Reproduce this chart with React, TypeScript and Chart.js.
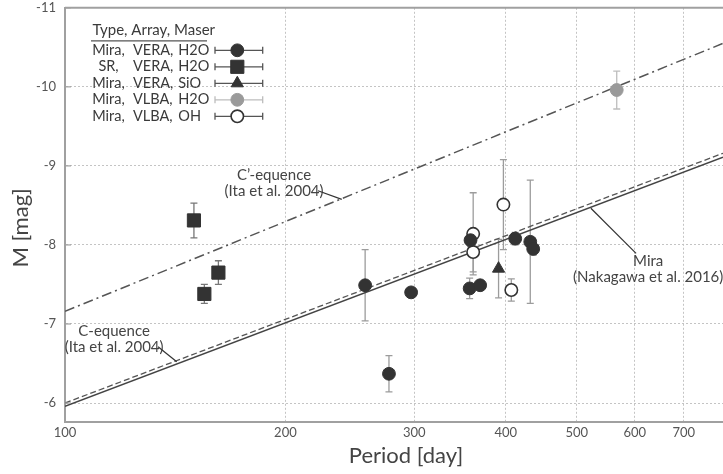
import React, { useEffect, useRef } from 'react';
import { Chart, registerables } from 'chart.js';

Chart.register(...registerables);

const FONT = 'Lato, "Open Sans", "Noto Sans", sans-serif';

// ---- data ----
const miraVeraH2oPeriod = [257, 277, 297, 358, 357, 369, 412, 432, 436];
const miraVeraH2oMag = [-7.49, -6.37, -7.4, -8.06, -7.45, -7.49, -8.08, -8.04, -7.95];
const miraVeraH2oErr = [0.45, 0.23, 0.04, 0.08, 0.13, 0.05, 0.08, 0.78, 0.08];

const srVeraH2oPeriod = [150, 155, 162];
const srVeraH2oMag = [-8.31, -7.38, -7.65];
const srVeraH2oErr = [0.22, 0.12, 0.15];

const miraVeraSioPeriod = [391];
const miraVeraSioMag = [-7.7];
const miraVeraSioErr = [0.37];

const miraVlbaH2oPeriod = [567];
const miraVlbaH2oMag = [-9.96];
const miraVlbaH2oErr = [0.24];

const miraVlbaOhPeriod = [361, 361, 397, 407];
const miraVlbaOhMag = [-8.14, -7.91, -8.51, -7.43];
const miraVlbaOhErr = [0.52, 0.25, 0.57, 0.14];

// relation lines: magnitudes at the two ends of the period axis
const linePeriods = [100, 792];
const miraNakagawa = [-5.96, -9.11];
const cSequence = [-6.0, -9.16];
const cPrimeSequence = [-7.16, -10.55];

const xTickValues = [100, 200, 300, 400, 500, 600, 700];
const yTickValues = [-11, -10, -9, -8, -7, -6];

const legendHeader = 'Type, Array, Maser';
const legendType = ['Mira,', 'SR,', 'Mira,', 'Mira,', 'Mira,'];
const legendArray = ['VERA,', 'VERA,', 'VERA,', 'VLBA,', 'VLBA,'];
const legendMaser = ['H2O', 'H2O', 'SiO', 'H2O', 'OH'];

const xTitle = 'Period [day]';
const yTitle = 'M [mag]';

const annotations = [
  { lines: ['C\u2019-equence', '(Ita et al. 2004)'], p: 193, m: -8.885, leader: [[221.6, -8.686], [238.8, -8.577]] },
  { lines: ['C-equence', '(Ita et al. 2004)'], p: 116.7, m: -6.903, leader: [[134.0, -6.713], [142.1, -6.523]] },
  { lines: ['Mira', '(Nakagawa et al. 2016)'], p: 626, m: -7.801, leader: [[522.7, -8.464], [602.6, -7.894]] },
];

type Series = {
  period: number[]; mag: number[]; err: number[];
  style: string; fill: string; stroke: string; radius: number; bw: number;
  errColor: string; legendErr: string;
};

const series: Series[] = [
  { period: miraVeraH2oPeriod, mag: miraVeraH2oMag, err: miraVeraH2oErr, style: 'circle', fill: '#333', stroke: '#333', radius: 6.4, bw: 1, errColor: '#9c9c9c', legendErr: '#555' },
  { period: srVeraH2oPeriod, mag: srVeraH2oMag, err: srVeraH2oErr, style: 'rect', fill: '#333', stroke: '#333', radius: 9.3, bw: 1, errColor: '#777', legendErr: '#555' },
  { period: miraVeraSioPeriod, mag: miraVeraSioMag, err: miraVeraSioErr, style: 'triangle', fill: '#333', stroke: '#333', radius: 7, bw: 1, errColor: '#9c9c9c', legendErr: '#555' },
  { period: miraVlbaH2oPeriod, mag: miraVlbaH2oMag, err: miraVlbaH2oErr, style: 'circle', fill: '#9a9a9a', stroke: '#9a9a9a', radius: 6.4, bw: 1, errColor: '#bdbdbd', legendErr: '#bdbdbd' },
  { period: miraVlbaOhPeriod, mag: miraVlbaOhMag, err: miraVlbaOhErr, style: 'circle', fill: '#ffffff', stroke: '#333', radius: 6.2, bw: 1.6, errColor: '#9c9c9c', legendErr: '#555' },
];

function drawMarker(ctx: CanvasRenderingContext2D, s: Series, cx: number, cy: number) {
  const r = s.radius;
  ctx.beginPath();
  if (s.style === 'rect') {
    const h = r * Math.SQRT1_2;
    ctx.rect(cx - h, cy - h, 2 * h, 2 * h);
  } else if (s.style === 'triangle') {
    ctx.moveTo(cx, cy - r);
    ctx.lineTo(cx + r * 0.866, cy + r * 0.5);
    ctx.lineTo(cx - r * 0.866, cy + r * 0.5);
    ctx.closePath();
  } else {
    ctx.arc(cx, cy, r, 0, Math.PI * 2);
  }
  ctx.fillStyle = s.fill;
  ctx.fill();
  ctx.lineWidth = s.bw;
  ctx.strokeStyle = s.stroke;
  ctx.stroke();
}

const overlayPlugin = {
  id: 'overlay',
  beforeDatasetsDraw(chart: any) {
    const { ctx, scales } = chart;
    const x = scales.x, y = scales.y;
    ctx.save();
    ctx.lineWidth = 1.3;
    series.forEach((s) => {
      ctx.strokeStyle = s.errColor;
      s.period.forEach((p, i) => {
        const px = x.getPixelForValue(p);
        const y1 = y.getPixelForValue(s.mag[i] - s.err[i]);
        const y2 = y.getPixelForValue(s.mag[i] + s.err[i]);
        ctx.beginPath();
        ctx.moveTo(px, y1); ctx.lineTo(px, y2);
        ctx.moveTo(px - 3.5, y1); ctx.lineTo(px + 3.5, y1);
        ctx.moveTo(px - 3.5, y2); ctx.lineTo(px + 3.5, y2);
        ctx.stroke();
      });
    });
    ctx.restore();
  },
  afterDatasetsDraw(chart: any) {
    const { ctx, chartArea, scales } = chart;
    const x = scales.x, y = scales.y;
    const { left, top, right, bottom } = chartArea;
    ctx.save();

    // top frame
    ctx.strokeStyle = '#a0a0a0';
    ctx.lineWidth = 2;
    ctx.beginPath();
    ctx.moveTo(left, top); ctx.lineTo(right, top);
    ctx.stroke();

    // inward ticks on left axis
    ctx.lineWidth = 1.2;
    yTickValues.forEach((v) => {
      const py = y.getPixelForValue(v);
      ctx.beginPath();
      ctx.moveTo(left, py); ctx.lineTo(left + 6, py);
      ctx.stroke();
    });

    // annotations
    ctx.fillStyle = '#444';
    ctx.font = `15px ${FONT}`;
    ctx.textAlign = 'center';
    ctx.textBaseline = 'middle';
    annotations.forEach((a) => {
      const ax = x.getPixelForValue(a.p);
      const ay = y.getPixelForValue(a.m);
      a.lines.forEach((t, i) => ctx.fillText(t, ax, ay + i * 16));
      ctx.strokeStyle = '#333';
      ctx.lineWidth = 1.2;
      ctx.beginPath();
      ctx.moveTo(x.getPixelForValue(a.leader[0][0]), y.getPixelForValue(a.leader[0][1]));
      ctx.lineTo(x.getPixelForValue(a.leader[1][0]), y.getPixelForValue(a.leader[1][1]));
      ctx.stroke();
    });

    // legend
    const hx = left + 27.5;
    const hy = top + 22.5;
    ctx.fillStyle = '#3a3a3a';
    ctx.textAlign = 'left';
    ctx.font = `15px ${FONT}`;
    ctx.fillText(legendHeader, hx, hy);
    ctx.strokeStyle = '#555';
    ctx.lineWidth = 1.2;
    ctx.beginPath();
    ctx.moveTo(left + 26, top + 33); ctx.lineTo(left + 142, top + 33);
    ctx.stroke();
    ctx.font = `14.5px ${FONT}`;
    series.forEach((s, i) => {
      const ry = top + 42.5 + i * 16.5;
      ctx.fillStyle = '#3a3a3a';
      ctx.textAlign = 'center';
      ctx.fillText(legendType[i], left + 43.5, ry);
      ctx.textAlign = 'left';
      ctx.fillText(legendArray[i], left + 68, ry);
      ctx.fillText(legendMaser[i], left + 113.3, ry);
      const x1 = left + 150, x2 = left + 197.7, mx = left + 172.3;
      ctx.strokeStyle = s.legendErr;
      ctx.lineWidth = 1.3;
      ctx.beginPath();
      ctx.moveTo(x1, ry); ctx.lineTo(x2, ry);
      ctx.moveTo(x1, ry - 3.5); ctx.lineTo(x1, ry + 3.5);
      ctx.moveTo(x2, ry - 3.5); ctx.lineTo(x2, ry + 3.5);
      ctx.stroke();
      drawMarker(ctx, s, mx, ry);
    });

    // axis titles
    ctx.fillStyle = '#444';
    ctx.font = `22px ${FONT}`;
    ctx.textAlign = 'center';
    ctx.textBaseline = 'middle';
    ctx.fillText(xTitle, 406, bottom + 34);
    ctx.translate(21, (top + bottom) / 2 + 13);
    ctx.rotate(-Math.PI / 2);
    ctx.fillText(yTitle, 0, 0);

    ctx.restore();
  },
};

export default function App() {
  const ref = useRef<HTMLCanvasElement>(null);

  useEffect(() => {
    if (!ref.current) return;
    Chart.defaults.font.family = FONT;

    const pointSets = series.map((s, k) => ({
      label: `${legendType[k]} ${legendArray[k]} ${legendMaser[k]}`,
      data: s.period.map((p, i) => ({ x: p, y: s.mag[i] })),
      pointStyle: s.style,
      pointRadius: s.radius,
      backgroundColor: s.fill,
      borderColor: s.stroke,
      borderWidth: s.bw,
      showLine: false,
      order: 1,
    }));

    const lineSet = (label: string, vals: number[], color: string, width: number, dash: number[]) => ({
      label,
      data: linePeriods.map((p, i) => ({ x: p, y: vals[i] })),
      showLine: true,
      pointRadius: 0,
      borderColor: color,
      borderWidth: width,
      borderDash: dash,
      fill: false,
      order: 5,
    });

    const chart = new Chart(ref.current, {
      type: 'scatter',
      data: {
        datasets: [
          ...pointSets,
          lineSet('Mira (Nakagawa et al. 2016)', miraNakagawa, '#444', 1.5, []),
          lineSet('C-equence (Ita et al. 2004)', cSequence, '#555', 1.3, [6, 3]),
          lineSet('C\u2019-equence (Ita et al. 2004)', cPrimeSequence, '#555', 1.5, [10, 4, 2, 4]),
        ] as any,
      },
      options: {
        animation: false,
        responsive: false,
        layout: { padding: 0, autoPadding: false },
        plugins: { legend: { display: false }, tooltip: { enabled: false } },
        scales: {
          x: {
            type: 'logarithmic',
            min: 100,
            max: 792,
            afterBuildTicks: (s: any) => { s.ticks = xTickValues.map((v) => ({ value: v })); },
            afterFit: (s: any) => { s.height = 52; s.paddingLeft = 0; s.paddingRight = 0; },
            ticks: {
              callback: (v: any) => String(v),
              color: '#555',
              font: { size: 13, family: FONT },
              padding: 3,
              maxRotation: 0,
              autoSkip: false,
            },
            grid: { color: '#c4c4c4', lineWidth: 1, drawTicks: false },
            border: { display: true, color: '#a0a0a0', width: 2, dash: [2, 2] },
          },
          y: {
            type: 'linear',
            reverse: true,
            min: -11,
            max: -5.76,
            afterBuildTicks: (s: any) => { s.ticks = yTickValues.map((v) => ({ value: v })); },
            afterFit: (s: any) => { s.width = 65; s.paddingTop = 7.8; s.paddingBottom = 0; },
            ticks: {
              callback: (v: any) => String(v),
              color: '#555',
              font: { size: 13, family: FONT },
              padding: 9,
            },
            grid: { color: '#c4c4c4', lineWidth: 1, drawTicks: false },
            border: { display: true, color: '#a0a0a0', width: 2, dash: [2, 2] },
          },
        },
      } as any,
      plugins: [overlayPlugin],
    });

    return () => chart.destroy();
  }, []);

  return (
    <div style={{ position: 'fixed', left: 0, top: 0, width: 723, height: 474, background: '#fff' }}>
      <canvas ref={ref} width={723} height={474} style={{ display: 'block' }} />
    </div>
  );
}
